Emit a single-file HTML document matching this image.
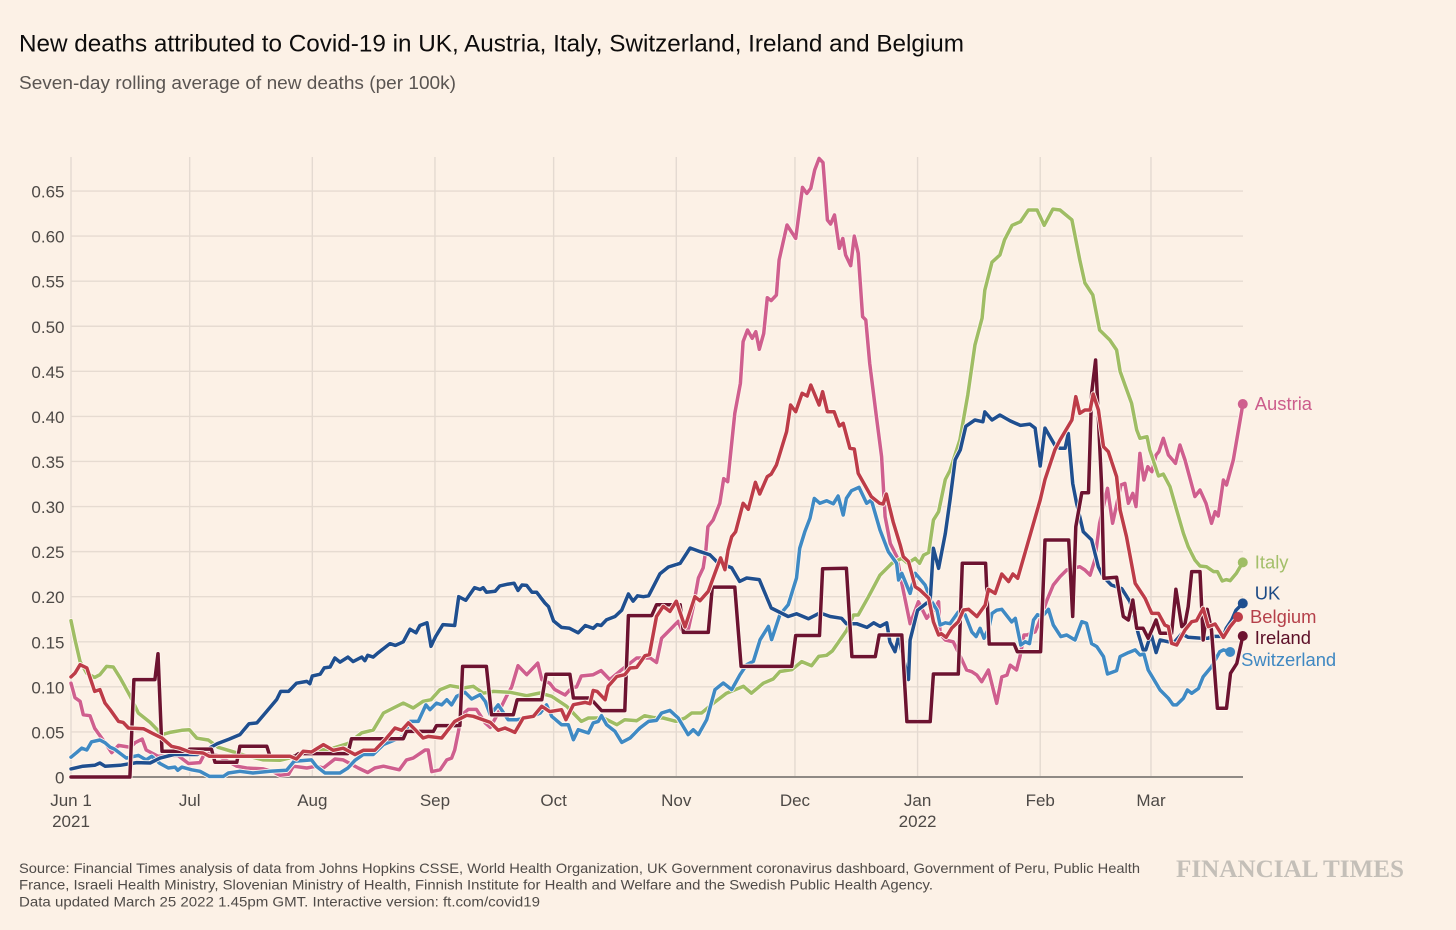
<!DOCTYPE html>
<html lang="en">
<head>
<meta charset="utf-8">
<title>New deaths attributed to Covid-19</title>
<style>
html,body{margin:0;padding:0;background:#fcf1e6;}
svg{display:block;font-family:"Liberation Sans",sans-serif;}
</style>
</head>
<body>
<svg id="chart" xmlns="http://www.w3.org/2000/svg" width="1456" height="930" viewBox="0 0 1456 930">
  <rect x="0" y="0" width="1456" height="930" fill="#fcf1e6"/>
  <text x="19" y="51.5" font-size="24" fill="#0d0c0c" textLength="945" lengthAdjust="spacingAndGlyphs">New deaths attributed to Covid-19 in UK, Austria, Italy, Switzerland, Ireland and Belgium</text>
  <text x="19" y="89" font-size="18.5" fill="#5a5552" textLength="437" lengthAdjust="spacingAndGlyphs">Seven-day rolling average of new deaths (per 100k)</text>
  <g id="grid"></g>
  <g id="series"></g>
  <g id="axis"></g>
  <g id="markers"></g>
  <text x="19" y="873" font-size="14" fill="#4f4b48" textLength="1121" lengthAdjust="spacingAndGlyphs">Source: Financial Times analysis of data from Johns Hopkins CSSE, World Health Organization, UK Government coronavirus dashboard, Government of Peru, Public Health</text>
  <text x="19" y="889.5" font-size="14" fill="#4f4b48" textLength="914" lengthAdjust="spacingAndGlyphs">France, Israeli Health Ministry, Slovenian Ministry of Health, Finnish Institute for Health and Welfare and the Swedish Public Health Agency.</text>
  <text x="19" y="906.5" font-size="14" fill="#4f4b48" textLength="521" lengthAdjust="spacingAndGlyphs">Data updated March 25 2022 1.45pm GMT. Interactive version: ft.com/covid19</text>
  <text x="1176" y="877" font-size="25" font-weight="bold" font-family="'Liberation Serif',serif" fill="#c4bfb8" textLength="228" lengthAdjust="spacingAndGlyphs">FINANCIAL TIMES</text>
</svg>
<script>
// Chart data: [days since 1 Jun 2021, new deaths per 100k]
const yTicks = [0, 0.05, 0.10, 0.15, 0.20, 0.25, 0.30, 0.35, 0.40, 0.45, 0.50, 0.55, 0.60, 0.65];
const yTickLabels = ['0', '0.05', '0.10', '0.15', '0.20', '0.25', '0.30', '0.35', '0.40', '0.45', '0.50', '0.55', '0.60', '0.65'];
const monthDays = [0, 30, 61, 92, 122, 153, 183, 214, 245, 273];
const monthLabels = ['Jun 1', 'Jul', 'Aug', 'Sep', 'Oct', 'Nov', 'Dec', 'Jan', 'Feb', 'Mar'];
const yearLabels = ['2021', '', '', '', '', '', '', '2022', '', ''];

const austria = [[0,.104],[1,.088],[2.3,.084],[3.1,.069],[4.8,.068],[6,.054],[8.6,.038],[10.3,.027],[12,.035],[15,.033],[16.2,.038],[18,.042],[19,.03],[22,.023],[27,.024],[29.7,.015],[32.6,.016],[33.9,.027],[37,.024],[41.9,.012],[44.4,.01],[48.6,.009],[51,.006],[52.8,.002],[55,.003],[56.2,.012],[59.6,.01],[62,.012],[63.8,.01],[66.7,.02],[68.8,.019],[72.6,.01],[75,.005],[76.8,.01],[79,.012],[83,.008],[84.8,.019],[86.5,.021],[89.5,.03],[90.3,.03],[91.2,.006],[93.3,.008],[95,.019],[96.2,.021],[97,.03],[98,.052],[98.3,.067],[100.4,.075],[102.5,.075],[104.7,.06],[106,.055],[108,.071],[110,.089],[111.4,.1],[113,.1235],[115.2,.1135],[118,.1264],[119,.108],[121,.104],[122.3,.097],[124.9,.091],[126.6,.099],[127.8,.1],[129,.112],[132,.1135],[134,.118],[136.2,.108],[139.2,.119],[143,.132],[146.4,.132],[148,.127],[149.3,.154],[151,.1615],[153.5,.1726],[154.4,.163],[156,.163],[157.3,.189],[158.6,.2207],[159.8,.232],[160.5,.252],[161,.2777],[162.3,.285],[164,.3036],[165,.331],[166,.3276],[167.8,.4034],[169.2,.4367],[169.9,.483],[171,.4958],[172.2,.4866],[173.1,.494],[174,.4744],[175.1,.492],[176,.5317],[177,.5284],[178.3,.5347],[179,.5735],[181,.6123],[183.2,.5975],[184.9,.654],[186,.6474],[187,.653],[188,.6733],[189.1,.6862],[190.1,.6815],[191.2,.6179],[192,.6134],[193,.6234],[194.2,.5864],[195.1,.5975],[195.8,.579],[197.1,.5672],[198,.6],[199,.5809],[200.1,.5106],[200.9,.5069],[201.9,.4589],[203.6,.3997],[204.9,.3553],[205.8,.2888],[207.1,.259],[208.8,.244],[210,.215],[212.1,.17],[214.2,.1945],[216.3,.176],[218,.185],[219.3,.1945],[219.7,.159],[221,.152],[223,.15],[225.2,.13],[226.4,.1187],[227.7,.1168],[229,.113],[230.2,.1057],[231.9,.1187],[234,.0817],[235.3,.111],[236.6,.113],[237.4,.124],[239,.1187],[239.9,.1335],[240.9,.1575],[241.6,.1575],[243.7,.161],[244.6,.17],[246.7,.196],[248.3,.213],[250,.2222],[251.7,.2296],[255,.2333],[256.3,.2296],[257.6,.224],[258.8,.2407],[260,.2814],[262,.3202],[263.3,.2814],[265.4,.3239],[266.4,.3257],[267.3,.3036],[268.4,.3147],[269.2,.2999],[270.2,.359],[271.2,.3295],[272.2,.3442],[273.2,.3387],[274.3,.3572],[275,.3609],[276.1,.3757],[277.4,.3572],[279.2,.3479],[280.3,.3683],[281.6,.3516],[284.1,.311],[285.4,.3184],[286.9,.3036],[288.3,.2814],[289.2,.2943],[290,.2895],[291.3,.3295],[292.1,.3239],[293.8,.3516],[295.9,.4053],[296.2,.4137]];

const italy = [[0,.1734],[1,.1523],[2.3,.128],[4,.115],[6,.1105],[7.3,.1135],[9,.1227],[10.7,.122],[12.4,.11],[15,.0895],[17,.071],[20,.0606],[23,.047],[25,.0495],[28,.0518],[29.9,.0525],[31.8,.043],[34.7,.041],[37.2,.033],[40.6,.0285],[44,.024],[48.6,.019],[52.8,.0185],[57,.023],[62,.0296],[65.5,.031],[70,.037],[73.5,.049],[76.4,.052],[79,.071],[81.5,.0765],[84,.082],[86.5,.0765],[89,.084],[91,.0858],[93.3,.0969],[95.8,.1013],[99.2,.0987],[101.7,.1006],[104.2,.093],[106.8,.095],[111,.0939],[115.2,.0902],[118.5,.0932],[121.5,.0895],[125.3,.0784],[129,.0617],[130.8,.0654],[134.6,.0654],[138,.058],[140,.0636],[143,.0625],[145,.068],[147.2,.066],[149.7,.0654],[153,.0617],[155.2,.0654],[156.9,.071],[159.4,.071],[162.4,.082],[165.7,.093],[170,.1006],[172,.093],[175,.104],[177.5,.1087],[179.2,.117],[182.2,.119],[184.7,.128],[187.2,.1235],[189,.1338],[191,.135],[192.5,.14],[194.4,.152],[196.1,.163],[197.8,.1797],[199,.1797],[201.6,.2],[204.5,.224],[207.5,.237],[210,.2426],[211.5,.237],[213.4,.2426],[214.5,.237],[215.5,.246],[216.8,.249],[218,.285],[219.3,.2943],[221,.33],[222.2,.34],[224.7,.374],[226.7,.424],[228.5,.479],[230.3,.509],[231,.54],[232.8,.571],[234.8,.579],[236,.596],[237.9,.612],[240,.616],[242,.629],[244.2,.629],[246,.612],[248.2,.63],[250,.629],[253,.618],[255,.5735],[256.3,.548],[258.3,.5347],[260,.4958],[262.6,.4847],[264.3,.4737],[265.2,.45],[266.4,.435],[268.1,.4145],[269.4,.385],[270.2,.3757],[272,.3775],[272.7,.3627],[274.9,.3339],[276.1,.336],[277.8,.322],[279.5,.296],[281.2,.2703],[282.4,.2555],[284.1,.2407],[285.4,.234],[287,.2333],[288.8,.2278],[289.8,.2278],[291,.2174],[292,.219],[293,.2178],[294.6,.226],[296.2,.2381]];

const switzerland = [[0,.022],[1.4,.027],[2.7,.032],[4,.03],[5.2,.039],[7.3,.041],[8.6,.038],[9.9,.033],[11,.031],[14,.021],[17,.024],[19,.019],[20.4,.023],[22.5,.015],[24.6,.01],[26.3,.011],[27,.0074],[28,.011],[30.5,.008],[32.6,.0063],[35,.0007],[38.5,.0007],[39.8,.0044],[42.7,.0063],[46,.0044],[50.3,.0063],[54.5,.0074],[56.4,.0174],[60.8,.019],[62,.012],[64.2,.0044],[68,.0044],[70,.01],[71.8,.0185],[73.9,.025],[76.4,.025],[79,.036],[84,.045],[85.7,.0617],[87.8,.0617],[89.7,.08],[90.75,.0747],[92.4,.082],[93.7,.08],[95,.0858],[96.2,.08],[97.5,.0895],[99.6,.0939],[101.3,.0865],[103.4,.0913],[104.7,.084],[106,.069],[108,.08],[110.5,.0636],[112.7,.0636],[116,.066],[118.6,.071],[120.2,.08],[121.5,.0673],[124,.058],[125.7,.058],[127,.0414],[128.2,.0525],[130.8,.0488],[132,.06],[133.3,.0617],[134.1,.068],[135.4,.058],[137.5,.0506],[139.2,.0384],[141.3,.0432],[143.8,.0543],[146,.0617],[148,.0628],[149.3,.071],[151.4,.0739],[153.5,.0654],[156,.047],[157.3,.0525],[158.6,.047],[160.7,.0636],[162.8,.0969],[164.9,.1043],[167,.0969],[169.1,.1135],[170.8,.1246],[172.5,.1283],[174.2,.1523],[176.3,.167],[177.1,.1523],[179.2,.18],[181.3,.191],[183.4,.2207],[184.2,.2537],[185.5,.272],[186.8,.287],[187.9,.309],[189.3,.3036],[191,.3065],[192.7,.303],[193.9,.3117],[195.2,.2906],[196,.309],[197.3,.3176],[199.2,.3213],[201.1,.3036],[202.3,.3073],[204.5,.274],[206.6,.25],[208.7,.237],[209.2,.2185],[210,.226],[212.1,.2037],[213.4,.226],[215.9,.213],[217.5,.195],[218.9,.185],[219.7,.1686],[221,.171],[222.2,.17],[224.3,.183],[226,.18],[227.7,.161],[228.8,.1557],[229.8,.165],[230.8,.154],[232,.165],[232.8,.1815],[234,.185],[235.3,.186],[237.8,.172],[238.7,.176],[240.1,.1464],[241.2,.15],[242.3,.148],[243.3,.174],[244.3,.18],[245.5,.178],[247.1,.186],[248.3,.1686],[250.2,.1557],[251.7,.1575],[253.8,.152],[255.5,.1723],[256.7,.1705],[258,.148],[259.3,.1446],[261,.1335],[262,.1143],[264.3,.118],[265.2,.1335],[267.3,.138],[269,.141],[270.2,.1353],[271.2,.1364],[272.3,.1187],[275.3,.0965],[277.4,.0873],[278.6,.08],[279.5,.08],[281.2,.0873],[282.2,.0965],[283.3,.0928],[285,.0983],[286.2,.1113],[288.3,.1224],[290.4,.139],[291.3,.141],[293,.1387]];

const uk = [[0,.009],[3,.012],[6,.013],[7.3,.0155],[8.6,.012],[12.4,.013],[16.6,.016],[20,.0155],[22.5,.021],[26,.025],[32,.025],[37,.037],[40,.042],[42.7,.047],[45,.059],[47,.06],[49.5,.073],[52,.086],[53,.095],[55,.095],[57,.104],[59.6,.106],[60.4,.1035],[61,.112],[63,.114],[64,.121],[65.5,.122],[66.7,.132],[68,.1275],[70,.133],[71.3,.128],[73.5,.133],[74.3,.129],[75,.135],[76.4,.133],[77.7,.138],[80.6,.148],[82,.146],[84,.15],[85.7,.164],[87.2,.16],[88.2,.168],[90,.171],[91,.145],[92.2,.156],[94,.169],[97,.168],[98,.2],[99.8,.196],[102,.21],[103.4,.208],[104.2,.21],[105,.205],[107.2,.206],[108.4,.212],[110.5,.214],[112,.215],[113,.207],[114,.213],[115.2,.2125],[116.5,.205],[117.7,.205],[119.8,.193],[120.7,.189],[122,.173],[124,.166],[126,.165],[128.2,.16],[130,.168],[132,.165],[133,.169],[134,.168],[135.4,.1745],[137.5,.178],[139.2,.185],[140.9,.203],[142.1,.195],[143.2,.201],[144.7,.2],[146,.201],[148.9,.2255],[151,.233],[154,.237],[156.5,.254],[159,.25],[161.5,.2465],[163.2,.239],[167,.232],[169,.217],[170.8,.2207],[174,.219],[177,.1875],[181.3,.178],[183.4,.181],[186.4,.1755],[189.3,.182],[191.9,.178],[194.8,.176],[196,.17],[198.6,.17],[201.2,.166],[202.9,.171],[204.5,.167],[206.2,.171],[207,.15],[208.3,.139],[209.2,.156],[210.5,.13],[211.7,.108],[212.1,.152],[214,.185],[217.2,.196],[218,.2537],[219.3,.2315],[221,.27],[222.2,.307],[223.5,.352],[224.8,.363],[226.2,.389],[228.5,.396],[230.5,.394],[231,.405],[232.8,.396],[234.8,.4015],[237.4,.395],[240,.39],[242.4,.3915],[243.7,.387],[245,.345],[246.2,.387],[248.7,.368],[250,.3646],[251.3,.3646],[252.1,.381],[253.2,.3257],[254.2,.3036],[255.9,.272],[258,.263],[259.7,.233],[261,.222],[263,.213],[265.6,.209],[267.7,.1945],[269.8,.159],[271,.141],[271.7,.141],[273,.159],[274.3,.138],[275.3,.152],[277.4,.15],[279,.15],[280.8,.159],[282.4,.155],[285.8,.154],[287.5,.154],[288.3,.156],[291.3,.156],[292,.165],[293.4,.174],[294.5,.185],[296.2,.1926]];

const ireland = [[0,0],[14.9,0],[15.9,.108],[21.2,.108],[22,.1368],[23,.0285],[29.2,.0285],[30,.031],[35.5,.031],[36.4,.0163],[41.9,.0163],[42.7,.034],[49.5,.034],[50.3,.023],[56.6,.023],[57.5,.026],[70,.026],[70.9,.0425],[84,.0425],[84.8,.0506],[91.6,.0506],[92.4,.057],[98.3,.057],[99,.1227],[105,.1227],[106.3,.069],[111.8,.069],[112.8,.0858],[119,.0858],[120.1,.114],[126.1,.114],[127,.0876],[131.2,.0876],[134.1,.0736],[140,.0736],[140.9,.179],[146.8,.179],[148,.191],[154,.191],[154.8,.1604],[161.1,.1604],[162.1,.2107],[167.8,.2107],[169.4,.1227],[182.2,.1227],[183.2,.157],[189.2,.157],[190,.231],[196,.2315],[197.4,.1335],[203.3,.1335],[204.3,.1575],[210,.1575],[211.3,.0614],[217.2,.0614],[218,.1143],[224.3,.1143],[225.3,.237],[231.2,.237],[232.1,.1475],[238.4,.1475],[239.2,.139],[245.1,.139],[246.2,.2629],[252.2,.2629],[253.2,.178],[254,.2777],[255.5,.3154],[257.2,.3154],[258,.4256],[259,.4626],[260.5,.3257],[261.1,.2204],[264.3,.2215],[266,.178],[267.3,.1742],[268.4,.1963],[269.4,.165],[271,.165],[272.3,.1538],[274.3,.1742],[275.3,.1594],[278.2,.1594],[279.3,.2082],[280.8,.1668],[281.6,.17],[282.4,.189],[283.3,.2278],[285.4,.2278],[286.2,.152],[287.2,.186],[288.3,.163],[289.8,.0762],[292.1,.0762],[293.1,.115],[294.7,.126],[296.2,.1564]];

const belgium = [[0,.111],[1,.1153],[2.3,.1246],[4,.121],[6,.095],[7.3,.0969],[8.6,.082],[9.9,.0747],[12,.0617],[13.2,.0606],[14.5,.0543],[18.3,.0536],[21.2,.047],[23,.0433],[25.4,.034],[27.5,.032],[30,.0277],[33.4,.0266],[35,.023],[55.4,.023],[57,.02],[58.7,.0285],[60.8,.0277],[63.8,.0359],[66.3,.0296],[68.8,.032],[71.8,.0248],[73.9,.0296],[76.8,.0296],[79.4,.0414],[81.9,.0543],[83.6,.0518],[85.3,.06],[87,.0525],[89,.0433],[90.3,.045],[93.7,.0433],[97,.0617],[100,.0684],[101.7,.0673],[106,.0606],[108,.0518],[109.7,.0543],[112.2,.0495],[114.3,.0654],[116.9,.0673],[119,.0784],[121,.0725],[124,.0747],[125.1,.0636],[127,.0802],[130,.0828],[131.2,.0813],[132,.0961],[133,.095],[135,.0858],[135.8,.1006],[138,.1116],[140,.1135],[141.3,.1209],[143,.1216],[145.1,.1346],[146.2,.1357],[148,.178],[149.7,.1893],[151.4,.1837],[153,.195],[155.2,.1664],[157.7,.2],[159,.1956],[161.1,.206],[162.8,.2263],[164.2,.243],[165.3,.23],[166.1,.2518],[167,.2666],[168,.272],[169.9,.3036],[171.2,.297],[173,.3269],[174.1,.3139],[176,.3332],[177,.336],[178.3,.3461],[180.9,.3831],[181.9,.4127],[183.2,.4052],[184.8,.4256],[186.1,.4226],[187,.4348],[189.1,.4127],[190,.4274],[191.2,.4052],[192.9,.4052],[194.2,.3893],[195.2,.3923],[196.9,.3646],[198,.3638],[199,.3368],[202.3,.311],[204.4,.3036],[205.3,.3028],[206.1,.3139],[207.8,.2832],[209.6,.2573],[210.4,.2444],[211.7,.2389],[213.4,.2111],[214.6,.2074],[216.8,.1982],[218,.1723],[219.3,.1575],[220,.159],[221.2,.1549],[222.6,.1649],[224.3,.1723],[225.6,.1852],[226.9,.186],[229,.1779],[231.1,.1908],[231.9,.2082],[233.6,.2037],[235.3,.2252],[237,.2167],[238.1,.2252],[239.3,.2204],[245,.3073],[246.2,.33],[248.7,.363],[250,.3738],[253,.396],[254,.4219],[255,.4034],[256.3,.4071],[257.6,.4071],[258.4,.4248],[259.7,.4071],[261,.3664],[262.2,.3609],[264.3,.3331],[265.2,.2962],[266.8,.2666],[269,.2148],[271.5,.1982],[273.2,.1815],[274.9,.1815],[276.5,.1686],[277.4,.1668],[278.2,.1483],[279.5,.1464],[281.6,.1631],[283.3,.1723],[284.5,.1734],[286.2,.1871],[287.5,.1668],[289.2,.1697],[291.3,.1549],[293,.1668],[295,.1775]];

const seriesNames = ['Austria', 'Italy', 'Switzerland', 'UK', 'Ireland', 'Belgium'];
const seriesValues = [austria, italy, switzerland, uk, ireland, belgium];

const NS = 'http://www.w3.org/2000/svg';
const seriesColors = ['#cf5f8e', '#9fbd64', '#3f8ac4', '#1f4f8f', '#6d1330', '#bd3c48'];
const labelColors = ['#cc5c8c', '#a3bf6a', '#3f88c2', '#1c4a85', '#5c0f28', '#b5404a'];
const labelOffsets = [[12, 6], [12, 6], [11, 14], [12, -4], [12, 8], [12, 6]];

function xScale(day) { return 71 + day * 3.956; }
function yScale(value) { return 777 - value * 901.5; }
function make(tag, parent, attrs) {
  const el = document.createElementNS(NS, tag);
  Object.keys(attrs).forEach(function (k) { el.setAttribute(k, attrs[k]); });
  parent.appendChild(el);
  return el;
}
const gridG = document.getElementById('grid');
const axisG = document.getElementById('axis');
const seriesG = document.getElementById('series');
const markersG = document.getElementById('markers');

yTicks.forEach(function (t, i) {
  if (t > 0) {
    const gl = make('line', gridG, { x1: 71, x2: 1243, y1: yScale(t), y2: yScale(t), stroke: '#e6dbd1', 'stroke-width': 1.4 });
    
    
  }
  const tl = make('text', axisG, { x: 64.5, y: yScale(t) + 6.5, 'text-anchor': 'end', 'font-size': 17, fill: '#4d4946' });
  
  
  tl.textContent = yTickLabels[i];
});

monthDays.forEach(function (d, i) {
  const x = xScale(d);
  const vl = make('line', gridG, { x1: x, x2: x, y1: 157, y2: 777, stroke: '#e4dad1', 'stroke-width': 1.4 });
  
  
  const ml = make('text', axisG, { x: x, y: 806, 'text-anchor': 'middle', 'font-size': 17, fill: '#4d4946' });
  
  
  ml.textContent = monthLabels[i];
  if (yearLabels[i]) {
    const yl = make('text', axisG, { x: x, y: 827, 'text-anchor': 'middle', 'font-size': 17, fill: '#4d4946' });
    
    
    yl.textContent = yearLabels[i];
  }
});

const baseline = make('line', gridG, { x1: 71, x2: 1243, y1: yScale(0), y2: yScale(0), stroke: '#8f8a85', 'stroke-width': 2 });



seriesValues.forEach(function (points, i) {
  const d = points.map(function (p, j) {
    return (j ? 'L' : 'M') + xScale(p[0]).toFixed(1) + ' ' + yScale(p[1]).toFixed(1);
  }).join('');
  const halo = make('path', seriesG, { d: d, fill: 'none', stroke: '#fff6ee', 'stroke-width': 5.2, 'stroke-linejoin': 'round', 'stroke-linecap': 'round' });
  
  
  const line = make('path', seriesG, { d: d, fill: 'none', stroke: seriesColors[i], 'stroke-width': 3.5, 'stroke-linejoin': 'round', 'stroke-linecap': 'round' });
  
  
  line.setAttribute('data-series', seriesNames[i]);
  const last = points[points.length - 1];
  const cx = xScale(last[0]);
  const cy = yScale(last[1]);
  const dot = make('circle', markersG, { cx: cx, cy: cy, r: 5, fill: seriesColors[i] });
  
  
  const label = make('text', markersG, { x: cx + labelOffsets[i][0], y: cy + labelOffsets[i][1], 'font-size': 18.4, fill: labelColors[i] });
  
  
  label.textContent = seriesNames[i];
});
</script>
</body>
</html>
